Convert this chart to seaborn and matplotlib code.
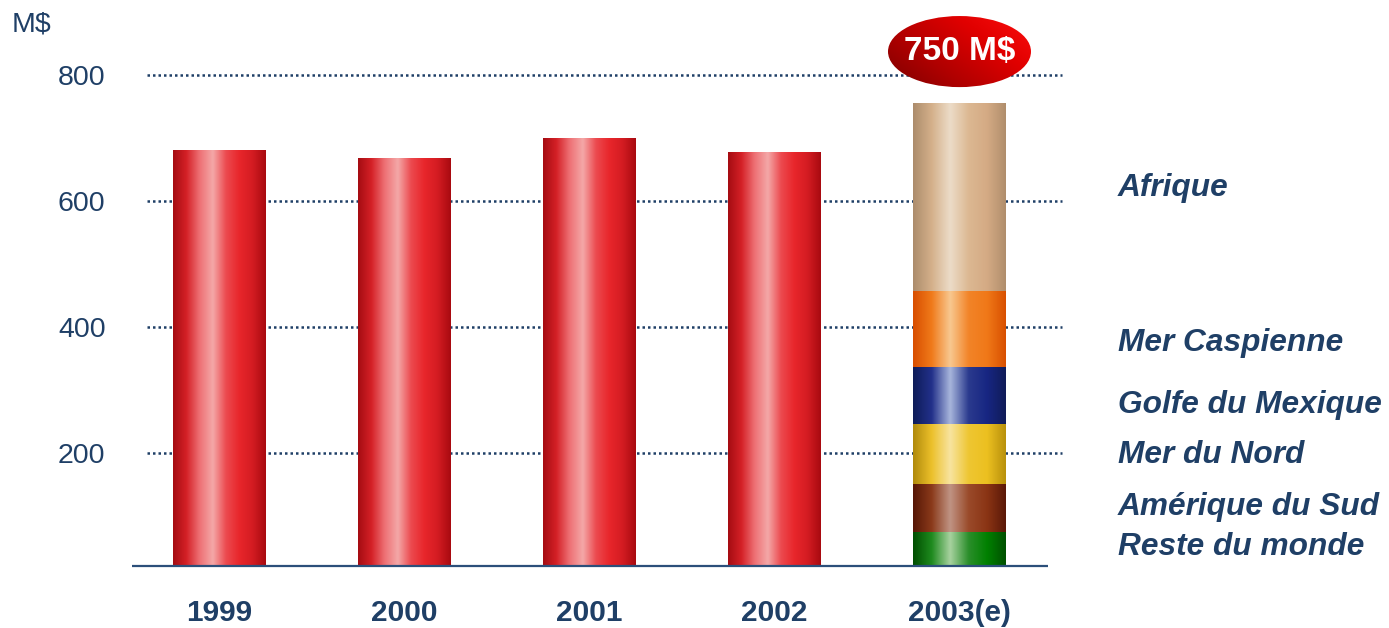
import numpy as np
import pandas as pd
import matplotlib
matplotlib.use("Agg")
import matplotlib.pyplot as plt
from matplotlib.colors import LinearSegmentedColormap
from matplotlib.patches import Ellipse
import seaborn as sns

# ---------------- data ----------------
years = ["1999", "2000", "2001", "2002", "2003(e)"]
totals = [682, 669, 700, 679, np.nan]          # red bars (2003 is stacked)
regions = ["Reste du monde", "Amérique du Sud", "Mer du Nord",
           "Golfe du Mexique", "Mer Caspienne", "Afrique"]
region_values = [74, 76, 96, 91, 121, 299]      # 2003(e) breakdown
yticks = [200, 400, 600, 800]
badge_text = "750 M$"
unit_label = "M$"

# ---------------- style ----------------
sns.set_theme(style="white")
plt.rcParams["font.family"] = ["Liberation Sans", "DejaVu Sans"]
NAVY = "#1f3f66"
Y_BOTTOM = 20

# horizontal "cylinder" gradients (edge, mid, highlight, mid, edge)
red_stops = ["#a50c12", "#d42026", "#ee7074", "#f4a8a8", "#ec4a4f", "#e8262b", "#d41c22", "#a80a10"]
region_stops = {
    "Reste du monde": ["#004e00", "#1e8a1e", "#a8d2a0", "#2a8e2a", "#008000", "#005000"],
    "Amérique du Sud": ["#561606", "#8a3a1a", "#c09484", "#9a4a2a", "#8a3414", "#5a1808"],
    "Mer du Nord": ["#b08a0c", "#ecc02a", "#f8e4a0", "#eec632", "#ecc020", "#b8900c"],
    "Golfe du Mexique": ["#0e1c58", "#22308a", "#a8b6dc", "#2a3a8e", "#172682", "#101c58"],
    "Mer Caspienne": ["#d84e00", "#f07a1a", "#f8c890", "#f28428", "#f07818", "#d85000"],
    "Afrique": ["#ac8c6c", "#d4b08a", "#ecdcc8", "#dcb892", "#d4aa84", "#b08e6c"],
}

fig = plt.figure(figsize=(13.89, 6.28), dpi=100)
W, H = 1389, 628
ax = fig.add_axes([132 / W, (H - 566) / H, (1100 - 132) / W, 566 / H])

# red bars
df = pd.DataFrame({"year": years, "value": totals})
sns.barplot(data=df, x="year", y="value", order=years, color="#e32227",
            width=0.5, ax=ax, saturation=1)
n_red = len(ax.patches)

# stacked bar for 2003(e): cumulative values drawn largest first
cum = np.cumsum(region_values)
seg_patches = []
for name, c in list(zip(regions, cum))[::-1]:
    before = len(ax.patches)
    sns.barplot(x=[years[-1]], y=[c], order=years, color="#888888",
                width=0.5, ax=ax, saturation=1)
    seg_patches.append((name, ax.patches[before:]))

def gradient_fill(patch, stops, z):
    x0, w = patch.get_x(), patch.get_width()
    y0, h = patch.get_y(), patch.get_height()
    if not np.isfinite(h) or h == 0:
        return
    y_lo = max(y0, Y_BOTTOM)
    y_hi = y0 + h
    cmap = LinearSegmentedColormap.from_list("g", stops)
    grad = np.linspace(0, 1, 256)[None, :]
    im = ax.imshow(grad, cmap=cmap, aspect="auto", extent=(x0, x0 + w, y_lo, y_hi),
                   origin="lower", zorder=z, interpolation="bicubic")
    im.set_clip_path(patch)
    patch.set_alpha(0)

for p in ax.patches[:n_red]:
    gradient_fill(p, red_stops, 3)
for i, (name, plist) in enumerate(seg_patches):
    for p in plist:
        gradient_fill(p, region_stops[name], 4 + i)

# axes limits / layout
x_left = (132 - 219.5) / 185
x_right = (1100 - 219.5) / 185
ax.set_xlim(x_left, x_right)
ax.set_ylim(Y_BOTTOM, 920)
ax.set_aspect("auto")

# grid lines (dotted) and baseline
ax.hlines(yticks, (147 - 219.5) / 185, (1062 - 219.5) / 185, colors=NAVY,
          linestyles=(0, (1, 1.2)), linewidth=1.8, zorder=2)
ax.hlines(Y_BOTTOM, x_left, (1048 - 219.5) / 185, colors="#2c4f7a", linewidth=1.6,
          zorder=10, clip_on=False)

for s in ax.spines.values():
    s.set_visible(False)
ax.set_yticks(yticks)
ax.set_yticklabels([str(t) for t in yticks], fontsize=20.5, color=NAVY)
ax.tick_params(axis="y", length=0, pad=19)
ax.set_xticks(range(len(years)))
ax.set_xticklabels(years, fontsize=21.5, fontweight="bold", color=NAVY)
ax.tick_params(axis="x", length=0, pad=24)
ax.set_xlabel("")
ax.set_ylabel("")

# unit label
fig.text(12 / W, 1 - 24 / H, unit_label, fontsize=20.5, color=NAVY,
         ha="left", va="center")

# right-side region labels (layout positions)
label_y = [50, 114, 197, 276, 375, 621]
for name, ly in zip(regions, label_y):
    ax.text((1118 - 219.5) / 185, ly, name, fontsize=22.8, fontweight="bold",
            fontstyle="italic", color=NAVY, ha="left", va="center", clip_on=False)

# badge ellipse with gradient
ecx, ecy = 4, 838
ell = Ellipse((ecx, ecy), 143 / 185, 71 / 0.6283, facecolor="none",
              edgecolor="none", zorder=8)
ax.add_patch(ell)
gx = np.linspace(0, 1, 200)
gy = np.linspace(0, 1, 100)
GX, GY = np.meshgrid(gx, gy)
G = 0.6 * GX + 0.4 * (1 - GY)
badge_cmap = LinearSegmentedColormap.from_list("b", ["#7a0000", "#b00000", "#e00000", "#ff1010"])
im = ax.imshow(G, cmap=badge_cmap, aspect="auto",
               extent=(ecx - 0.4, ecx + 0.4, ecy - 60, ecy + 60),
               origin="upper", zorder=8)
im.set_clip_path(ell)
ax.text(ecx, ecy, badge_text, fontsize=24, fontweight="bold", color="white",
        ha="center", va="center", zorder=9)

fig.savefig("out.png", dpi=100)
